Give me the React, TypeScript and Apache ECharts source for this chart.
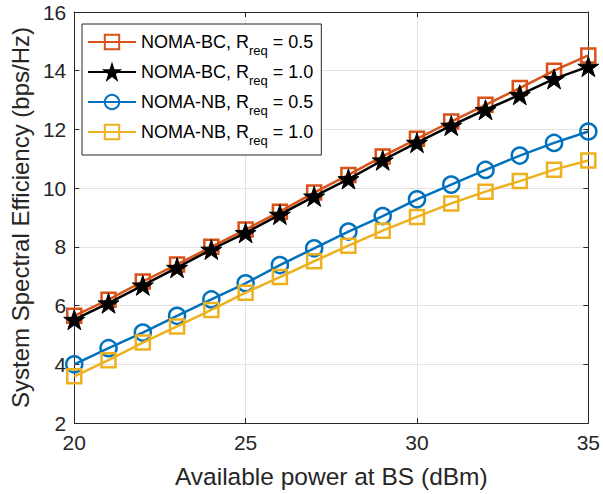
import React, { useEffect, useRef } from "react";
import * as echarts from "echarts";

const powerDbm = [20, 21, 22, 23, 24, 25, 26, 27, 28, 29, 30, 31, 32, 33, 34, 35];
const bcReq05 = [5.65, 6.2, 6.82, 7.4, 8.0, 8.59, 9.2, 9.85, 10.45, 11.08, 11.68, 12.27, 12.84, 13.41, 14.0, 14.52];
const bcReq10 = [5.52, 6.08, 6.69, 7.29, 7.91, 8.48, 9.1, 9.72, 10.31, 10.95, 11.55, 12.13, 12.67, 13.18, 13.72, 14.14];
const nbReq05 = [4.0, 4.55, 5.08, 5.65, 6.21, 6.76, 7.38, 7.95, 8.52, 9.05, 9.62, 10.12, 10.62, 11.11, 11.54, 11.93];
const nbReq10 = [3.59, 4.14, 4.74, 5.29, 5.85, 6.44, 6.97, 7.51, 8.04, 8.55, 9.02, 9.48, 9.88, 10.24, 10.63, 10.94];

const seriesNames = [
  "NOMA-BC, R{sub|req} = 0.5",
  "NOMA-BC, R{sub|req} = 1.0",
  "NOMA-NB, R{sub|req} = 0.5",
  "NOMA-NB, R{sub|req} = 1.0",
];

const STAR =
  "path://M0,-100 L22.45,-30.9 L95.1,-30.9 L36.3,11.8 L58.8,80.9 L0,38.2 L-58.8,80.9 L-36.3,11.8 L-95.1,-30.9 L-22.45,-30.9 Z";

const FONT = "'Liberation Sans', Arial, Helvetica, sans-serif";
const AXIS_COLOR = "#262626";

export default function App() {
  const ref = useRef<HTMLDivElement>(null);
  useEffect(() => {
    if (!ref.current) return;
    const chart = echarts.init(ref.current, undefined, { renderer: "svg" });
    const pair = (ys: number[]) => powerDbm.map((x, i) => [x, ys[i]]);
    const axisCommon = {
      axisLine: { show: true, lineStyle: { color: AXIS_COLOR, width: 1 } },
      axisTick: { show: true, inside: true, length: 5, lineStyle: { color: AXIS_COLOR } },
    };
    chart.setOption({
      animation: false,
      backgroundColor: "#ffffff",
      grid: { left: 71, right: 11, top: 12, bottom: 70, containLabel: false },
      legend: {
        orient: "vertical",
        left: 82,
        top: 24,
        padding: [3, 8, 8, 5],
        itemGap: 0,
        itemWidth: 48,
        itemHeight: 18,
        backgroundColor: "#ffffff",
        borderColor: AXIS_COLOR,
        borderWidth: 1,
        data: seriesNames,
        textStyle: {
          fontFamily: FONT,
          fontSize: 18,
          color: "#000000",
          lineHeight: 30,
          rich: {
            sub: { fontFamily: FONT, fontSize: 13, lineHeight: 13, verticalAlign: "bottom", color: "#000000" },
          },
        },
      },
      xAxis: [
        {
          type: "value",
          min: 20,
          max: 35,
          interval: 5,
          name: "Available power at BS (dBm)",
          nameLocation: "middle",
          nameGap: 41,
          nameTextStyle: { fontFamily: FONT, fontSize: 24.5, color: AXIS_COLOR },
          ...axisCommon,
          axisLabel: { fontFamily: FONT, fontSize: 21, color: AXIS_COLOR, margin: 9 },
          splitLine: { show: true, lineStyle: { color: "#e3e3e3", width: 1 } },
        },
        {
          type: "value",
          position: "top",
          min: 20,
          max: 35,
          interval: 5,
          ...axisCommon,
          axisLabel: { show: false },
          splitLine: { show: false },
        },
      ],
      yAxis: [
        {
          type: "value",
          min: 2,
          max: 16,
          interval: 2,
          name: "System Spectral Efficiency (bps/Hz)",
          nameLocation: "middle",
          nameGap: 37,
          nameTextStyle: { fontFamily: FONT, fontSize: 24, color: AXIS_COLOR },
          ...axisCommon,
          axisLabel: { fontFamily: FONT, fontSize: 21, color: AXIS_COLOR, margin: 8 },
          splitLine: { show: true, lineStyle: { color: "#e3e3e3", width: 1 } },
        },
        {
          type: "value",
          position: "right",
          min: 2,
          max: 16,
          interval: 2,
          ...axisCommon,
          axisLabel: { show: false },
          splitLine: { show: false },
        },
      ],
      series: [
        {
          name: seriesNames[0],
          type: "line",
          data: pair(bcReq05),
          symbol: "rect",
          symbolSize: 14,
          lineStyle: { color: "#D95319", width: 2.5 },
          itemStyle: { color: "transparent", borderColor: "#D95319", borderWidth: 2.5 },
          z: 2,
        },
        {
          name: seriesNames[1],
          type: "line",
          data: pair(bcReq10),
          symbol: STAR,
          symbolSize: 21,
          symbolKeepAspect: true,
          lineStyle: { color: "#000000", width: 2.5 },
          itemStyle: { color: "#000000", borderColor: "#000000", borderWidth: 1 },
          z: 3,
        },
        {
          name: seriesNames[2],
          type: "line",
          data: pair(nbReq05),
          symbol: "circle",
          symbolSize: 16,
          lineStyle: { color: "#0072BD", width: 2.5 },
          itemStyle: { color: "transparent", borderColor: "#0072BD", borderWidth: 2.5 },
          z: 4,
        },
        {
          name: seriesNames[3],
          type: "line",
          data: pair(nbReq10),
          symbol: "rect",
          symbolSize: 14,
          lineStyle: { color: "#EDB120", width: 2.5 },
          itemStyle: { color: "transparent", borderColor: "#EDB120", borderWidth: 2.5 },
          z: 5,
        },
      ],
    });
    return () => chart.dispose();
  }, []);
  return <div ref={ref} style={{ width: 603, height: 494, position: "absolute", left: 0, top: 0 }} />;
}
